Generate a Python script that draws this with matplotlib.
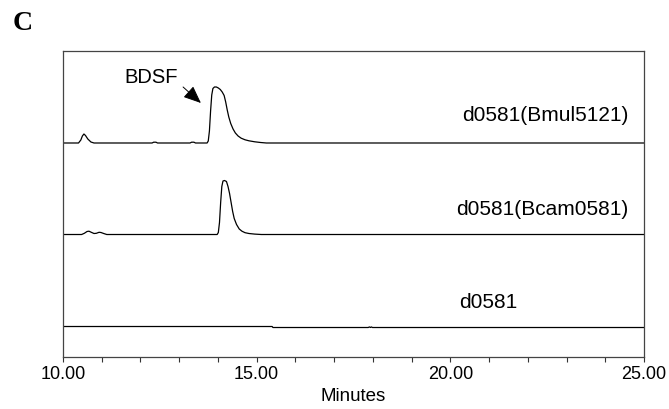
import numpy as np
import matplotlib
matplotlib.use('Agg')
import matplotlib.pyplot as plt
from matplotlib.ticker import MultipleLocator, FormatStrFormatter

# chromatogram traces: retention time (min) and detector signal above baseline
bmul_t = [10.0, 10.40, 10.46, 10.50, 10.54, 10.58, 10.64, 10.72, 10.80,
          12.30, 12.34, 12.40, 12.44, 13.28, 13.32, 13.38, 13.42,
          13.72, 13.75, 13.78, 13.81, 13.84, 13.87, 13.91, 13.96, 14.01,
          14.06, 14.11, 14.16, 14.20, 14.24, 14.28, 14.33, 14.39, 14.45,
          14.52, 14.60, 14.70, 14.80, 14.95, 15.10, 15.25, 25.0]
bmul_y = [0, 0, 3, 7, 9, 7.5, 4, 1, 0,
          0, 0.8, 0.8, 0, 0, 0.8, 0.8, 0,
          0, 2, 12, 32, 48, 54.5, 56, 56, 55,
          53.5, 51, 47.5, 41, 33, 26, 19.5, 14, 10,
          7, 4.8, 3.2, 2.2, 1.2, 0.5, 0, 0]

bcam_t = [10.0, 10.48, 10.55, 10.62, 10.67, 10.73, 10.80, 10.86, 10.93,
          10.98, 11.05, 11.13, 13.98, 14.01, 14.04, 14.07, 14.10, 14.13,
          14.17, 14.22, 14.26, 14.30, 14.34, 14.38, 14.42, 14.48, 14.55,
          14.62, 14.70, 14.80, 14.95, 15.12, 25.0]
bcam_y = [0, 0, 1.2, 3, 3.3, 2.2, 1, 1.2, 2.2,
          2, 1, 0, 0, 2, 12, 32, 48, 53.5,
          54, 53, 48, 41, 32, 23, 16, 10, 5.5,
          3.3, 1.8, 1, 0.4, 0, 0]

d0581_t = [10.0, 15.40, 15.42, 17.88, 17.91, 17.94, 17.96, 17.99, 25.0]
d0581_y = [0, 0, -1, -1, -0.4, -1, -0.4, -1, -1]

names = ['d0581(Bmul5121)', 'd0581(Bcam0581)', 'd0581']
offsets = [214, 122.5, 30.5]

narrow = ['Liberation Sans Narrow', 'Liberation Sans', 'DejaVu Sans']
plt.rcParams['font.family'] = ['Liberation Sans', 'DejaVu Sans']

fig = plt.figure(figsize=(6.69, 4.10), dpi=100)
ax = fig.add_axes([0.0942, 0.1268, 0.8684, 0.7464])

traces = [(bmul_t, bmul_y), (bcam_t, bcam_y), (d0581_t, d0581_y)]
for (t, y), off in zip(traces, offsets):
    ax.plot(t, np.array(y) + off, color='black', lw=0.9)

# trace labels
ax.text(24.59, 242, names[0], ha='right', va='center', fontsize=15)
ax.text(24.59, 149, names[1], ha='right', va='center', fontsize=15)
ax.text(20.98, 56, names[2], ha='center', va='center', fontsize=15)

# peak marker
ax.text(12.28, 280, 'BDSF', ha='center', va='center', fontsize=14.5)
ax.annotate('', xy=(13.56, 254), xytext=(13.10, 270),
            arrowprops=dict(arrowstyle='-|>,head_length=0.9,head_width=0.38',
                            mutation_scale=12, color='black', lw=0.7,
                            shrinkA=0, shrinkB=0))

ax.set_xlim(10, 25)
ax.set_ylim(0, 306)
ax.set_yticks([])
ax.xaxis.set_major_locator(MultipleLocator(5))
ax.xaxis.set_minor_locator(MultipleLocator(1))
ax.xaxis.set_major_formatter(FormatStrFormatter('%.2f'))
ax.tick_params(axis='x', which='both', direction='out', length=3.5,
               width=0.8, color='#333333', pad=2.5)
for lab in ax.get_xticklabels():
    lab.set_family(narrow)
    lab.set_fontsize(13)
ax.set_xlabel('Minutes', family=narrow, fontsize=13.5, labelpad=3)

for s in ax.spines.values():
    s.set_color('#444444')
    s.set_linewidth(0.9)

fig.text(0.0344, 0.942, 'C', ha='center', va='center', fontsize=20,
         fontweight='bold', family=['Liberation Serif', 'DejaVu Serif'])

fig.savefig('out.png', dpi=100)
plt.close(fig)
